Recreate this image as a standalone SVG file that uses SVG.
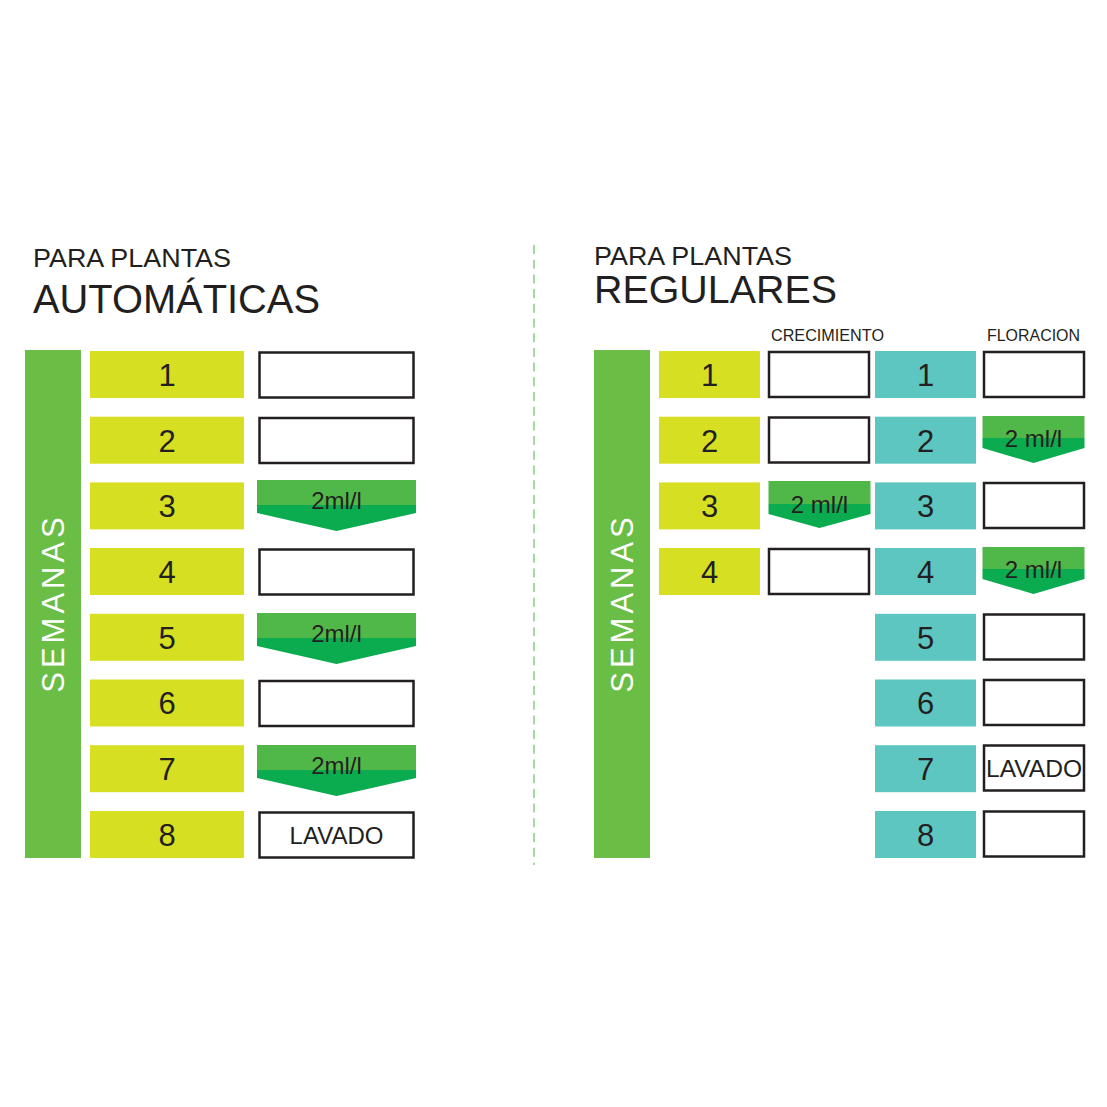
<svg xmlns="http://www.w3.org/2000/svg" width="1107" height="1107" viewBox="0 0 1107 1107">
<style>
text{font-family:"Liberation Sans",Arial,sans-serif;fill:#231f20}
.bar{fill:#6abd45}
.y{fill:#d7df23}
.t{fill:#5ec6c0}
.w{fill:#fff;stroke:#231f20;stroke-width:2.5}
.lg{fill:#50b848}
.dg{fill:#0bab4f}
.num{font-size:31px;text-anchor:middle}
.dose{font-size:24px;text-anchor:middle}
.sem{font-size:31px;fill:#fff;letter-spacing:4px;text-anchor:middle}
.sub{font-size:16px;text-anchor:middle}
</style>
<rect width="1107" height="1107" fill="#fff"/>
<g id="connectors">
<line x1="534" y1="245" x2="534" y2="865" stroke="#8fd08a" stroke-width="1.6" stroke-dasharray="9 5.7"/>
</g>
<g id="titles">
<text x="33" y="267" font-size="26" textLength="198" lengthAdjust="spacingAndGlyphs">PARA PLANTAS</text>
<text x="33" y="313" font-size="41" textLength="287" lengthAdjust="spacingAndGlyphs">AUTOMÁTICAS</text>
<text x="594" y="265" font-size="26" textLength="198" lengthAdjust="spacingAndGlyphs">PARA PLANTAS</text>
<text x="594" y="303" font-size="39" textLength="243" lengthAdjust="spacingAndGlyphs">REGULARES</text>
<text class="sub" x="827.5" y="341" textLength="113" lengthAdjust="spacingAndGlyphs">CRECIMIENTO</text>
<text class="sub" x="1033.5" y="341" textLength="93" lengthAdjust="spacingAndGlyphs">FLORACION</text>
</g>
<g id="semanas-left">
<rect class="bar" x="25" y="350" width="56" height="508"/>
<text class="sem" transform="translate(64,603) rotate(-90)">SEMANAS</text>
</g>
<g id="semanas-right">
<rect class="bar" x="594" y="350" width="56" height="508"/>
<text class="sem" transform="translate(633,603) rotate(-90)">SEMANAS</text>
</g>
<g id="auto-weeks">
<rect class="y" x="90" y="351" width="154" height="47"/><text class="num" x="167" y="386">1</text>
<rect class="y" x="90" y="416.7" width="154" height="47"/><text class="num" x="167" y="452">2</text>
<rect class="y" x="90" y="482.4" width="154" height="47"/><text class="num" x="167" y="517">3</text>
<rect class="y" x="90" y="548" width="154" height="47"/><text class="num" x="167" y="583">4</text>
<rect class="y" x="90" y="613.8" width="154" height="47"/><text class="num" x="167" y="649">5</text>
<rect class="y" x="90" y="679.5" width="154" height="47"/><text class="num" x="167" y="714">6</text>
<rect class="y" x="90" y="745.2" width="154" height="47"/><text class="num" x="167" y="780">7</text>
<rect class="y" x="90" y="811" width="154" height="47"/><text class="num" x="167" y="846">8</text>
</g>
<g id="auto-doses">
<rect class="w" x="259.5" y="352.5" width="154" height="45"/>
<rect class="w" x="259.5" y="418" width="154" height="45"/>
<g transform="translate(257,480)"><path class="dg" d="M0 25H159V33L79.5 51L0 33Z"/><rect class="lg" width="159" height="25"/><text class="dose" x="79.5" y="29">2ml/l</text></g>
<rect class="w" x="259.5" y="549.5" width="154" height="45"/>
<g transform="translate(257,613)"><path class="dg" d="M0 25H159V33L79.5 51L0 33Z"/><rect class="lg" width="159" height="25"/><text class="dose" x="79.5" y="29">2ml/l</text></g>
<rect class="w" x="259.5" y="681" width="154" height="45"/>
<g transform="translate(257,745)"><path class="dg" d="M0 25H159V33L79.5 51L0 33Z"/><rect class="lg" width="159" height="25"/><text class="dose" x="79.5" y="29">2ml/l</text></g>
<rect class="w" x="259.5" y="812.5" width="154" height="45"/>
<text class="dose" x="336.5" y="844">LAVADO</text>
</g>
<g id="reg-crecimiento">
<rect class="y" x="659" y="351" width="101" height="47"/><text class="num" x="709.5" y="386">1</text>
<rect class="y" x="659" y="416.7" width="101" height="47"/><text class="num" x="709.5" y="452">2</text>
<rect class="y" x="659" y="482.4" width="101" height="47"/><text class="num" x="709.5" y="517">3</text>
<rect class="y" x="659" y="548" width="101" height="47"/><text class="num" x="709.5" y="583">4</text>
<rect class="w" x="769" y="352" width="100" height="45"/>
<rect class="w" x="769" y="417.5" width="100" height="45"/>
<g transform="translate(768.5,481)"><path class="dg" d="M0 23H102V33L51 47L0 33Z"/><rect class="lg" width="102" height="23"/><text class="dose" x="51" y="32">2 ml/l</text></g>
<rect class="w" x="769" y="549" width="100" height="45"/>
</g>
<g id="reg-floracion">
<rect class="t" x="875" y="351" width="101" height="47"/><text class="num" x="925.5" y="386">1</text>
<rect class="t" x="875" y="416.7" width="101" height="47"/><text class="num" x="925.5" y="452">2</text>
<rect class="t" x="875" y="482.4" width="101" height="47"/><text class="num" x="925.5" y="517">3</text>
<rect class="t" x="875" y="548" width="101" height="47"/><text class="num" x="925.5" y="583">4</text>
<rect class="t" x="875" y="613.8" width="101" height="47"/><text class="num" x="925.5" y="649">5</text>
<rect class="t" x="875" y="679.5" width="101" height="47"/><text class="num" x="925.5" y="714">6</text>
<rect class="t" x="875" y="745.2" width="101" height="47"/><text class="num" x="925.5" y="780">7</text>
<rect class="t" x="875" y="811" width="101" height="47"/><text class="num" x="925.5" y="846">8</text>
<rect class="w" x="984" y="352" width="100" height="45"/>
<g transform="translate(982.5,416)"><path class="dg" d="M0 22H102V32L51 47L0 32Z"/><rect class="lg" width="102" height="22"/><text class="dose" x="51" y="31">2 ml/l</text></g>
<rect class="w" x="984" y="483" width="100" height="45"/>
<g transform="translate(982.5,547)"><path class="dg" d="M0 22H102V32L51 47L0 32Z"/><rect class="lg" width="102" height="22"/><text class="dose" x="51" y="31">2 ml/l</text></g>
<rect class="w" x="984" y="614.5" width="100" height="45"/>
<rect class="w" x="984" y="680" width="100" height="45"/>
<rect class="w" x="984" y="745.5" width="100" height="45"/>
<text class="dose" x="1034" y="777" textLength="96" lengthAdjust="spacingAndGlyphs">LAVADO</text>
<rect class="w" x="984" y="811.5" width="100" height="45"/>
</g>
</svg>
